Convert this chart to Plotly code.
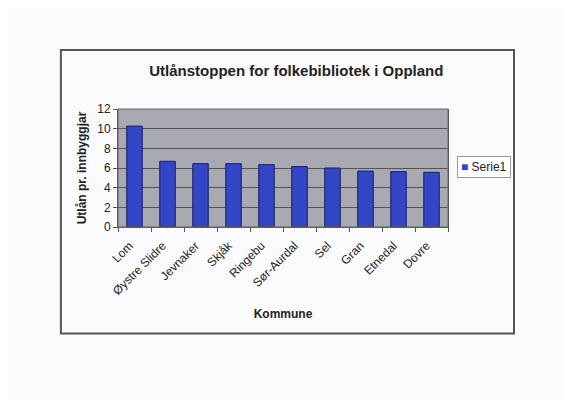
import plotly.graph_objects as go

kommuner = ["Lom", "Øystre Slidre", "Jevnaker", "Skjåk", "Ringebu", "Sør-Aurdal", "Sel", "Gran", "Etnedal", "Dovre"]
utlan = [10.26, 6.68, 6.44, 6.44, 6.34, 6.14, 6.0, 5.69, 5.63, 5.56]
y_ticks = [0, 2, 4, 6, 8, 10, 12]
series_name = "Serie1"

FONT = "Liberation Sans, Arial, sans-serif"
BAR = "#3346c8"

fig = go.Figure()
fig.add_trace(go.Bar(
    x=kommuner, y=utlan, name=series_name,
    marker=dict(color=BAR, line=dict(color="#1a1f5a", width=1)),
    width=0.47, showlegend=False,
))

fig.update_layout(
    width=571, height=400,
    margin=dict(l=110, r=131, t=101, b=181, autoexpand=False),
    paper_bgcolor="#fbfbfd",
    plot_bgcolor="#a9a9b1",
    font=dict(family=FONT, size=12, color="#222"),
    title=dict(text="<b>Utlånstoppen for folkebibliotek i Oppland</b>",
               x=0.505, xanchor="center", y=1 - 63 / 400, yanchor="middle",
               font=dict(size=15, family=FONT, color="#222")),
    xaxis=dict(
        title=dict(text="<b>Kommune</b>", font=dict(size=12, family=FONT), standoff=12),
        tickangle=-45, tickfont=dict(size=12, family=FONT),
        ticklabelstandoff=6, ticklabelshift=-5,
        showline=True, linecolor="#555", linewidth=1,
        ticks="outside", ticklen=4, tickcolor="#555", tickson="boundaries",
        showgrid=False, automargin=False,
    ),
    yaxis=dict(
        title=dict(text="<b>Utlån pr. innbyggjar</b>", font=dict(size=12, family=FONT), standoff=8),
        range=[0, 12], tickvals=y_ticks, tickfont=dict(size=12, family=FONT),
        showline=True, linecolor="#555", linewidth=1, mirror=True,
        ticks="outside", ticklen=4, tickcolor="#555",
        showgrid=True, gridcolor="#555", gridwidth=1,
        zeroline=False, automargin=False,
    ),
    shapes=[
        dict(type="rect", xref="paper", yref="paper",
             x0=-0.173, x1=1.2, y0=-0.903, y1=1.5,
             line=dict(color="#555", width=2), fillcolor="rgba(0,0,0,0)", layer="below"),
        dict(type="rect", xref="paper", yref="paper",
             x0=0, x1=1, y0=0, y1=1,
             line=dict(color="#666", width=1), fillcolor="rgba(0,0,0,0)"),
    ],
    annotations=[
        dict(text=f"<span style='color:{BAR}'>■</span> {series_name}",
             xref="paper", yref="paper", x=1.027, y=0.51,
             xanchor="left", yanchor="middle", showarrow=False,
             font=dict(size=12, family=FONT, color="#222"),
             bgcolor="#ffffff", bordercolor="#999", borderwidth=1, borderpad=3),
    ],
)

fig.write_html("out.html")
